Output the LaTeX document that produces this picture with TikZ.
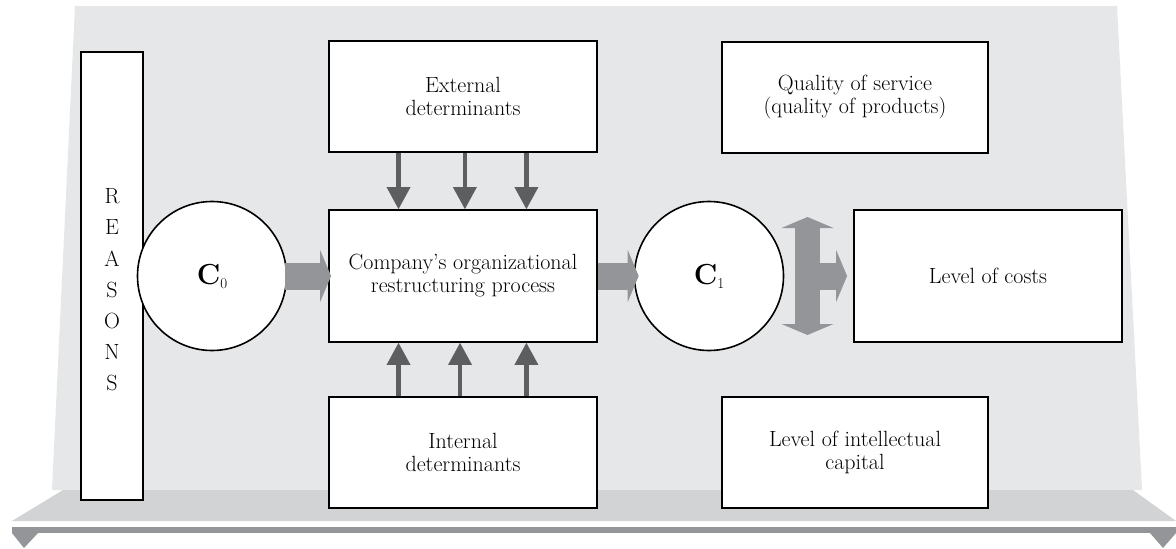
\documentclass[tikz,border=0pt]{standalone}
\usetikzlibrary{arrows.meta,calc}
\definecolor{panelc}{HTML}{E6E7E8}
\definecolor{floorc}{HTML}{D1D3D4}
\definecolor{barc}{HTML}{939598}
\definecolor{bigc}{HTML}{939598}
\definecolor{darkc}{HTML}{5D5E60}
\begin{document}
\begin{tikzpicture}[x=1pt,y=-1pt,
  box/.style={draw=black,line width=1.8pt,fill=white,inner sep=0pt,align=center,
    font=\fontsize{22}{23}\selectfont},
  roundc/.style={circle,draw=black,line width=1.6pt,fill=white,inner sep=0pt,
    minimum size=149pt},
  bigarrow/.style={draw=bigc,line width=27pt,-{Triangle[width=52pt,length=11pt,line width=0pt]}},
  dblarrow/.style={draw=bigc,line width=25pt,{Triangle[width=52pt,length=11pt,line width=0pt]}-{Triangle[width=52pt,length=11pt,line width=0pt]}},
  smallarrow/.style={draw=darkc,line width=4.5pt,-{Triangle[width=24pt,length=22pt,line width=0pt]}}
]
\useasboundingbox (0,0) rectangle (1176,549);
\fill[white] (0,0) rectangle (1176,549);
% back panel and floor
\fill[panelc] (75,6) -- (1117,6) -- (1142,490) -- (52,490) -- cycle;
\fill[floorc] (63,490) -- (1133,490) -- (1176,521) -- (12,521) -- cycle;
\fill[barc] (12,527) rectangle (1176,533);
\fill[barc] (12,533) -- (38,533) -- (24,548) -- cycle;
\fill[barc] (1150,533) -- (1176,533) -- (1163,548) -- cycle;

% boxes
\node[box,minimum width=62pt,minimum height=448pt] (reasons) at (112,276) {};
\node[align=center,inner sep=0pt,font=\fontsize{22}{31.2}\selectfont] (reasonstxt) at (112,290)
  {R\\E\\A\\S\\O\\N\\S};
\node[box,minimum width=268pt,minimum height=111pt] (ext) at (463,96.5) {External\\determinants};
\node[box,minimum width=268pt,minimum height=132pt] (main) at (463,276) {Company's organizational\\restructuring process};
\node[box,minimum width=268pt,minimum height=111pt] (int) at (463,452.5) {Internal\\determinants};
\node[box,minimum width=266pt,minimum height=111pt] (qual) at (855,97.5) {Quality of service\\(quality of products)};
\node[box,minimum width=268pt,minimum height=132pt] (costs) at (988,276) {Level of costs};
\node[box,minimum width=266pt,minimum height=111pt] (intel) at (855,452.5) {Level of intellectual\\capital};

% circles
\node[roundc] (c0) at (212,276) {{\fontsize{29}{30}\selectfont\bfseries C}\raisebox{-4pt}{\fontsize{15}{15}\selectfont 0}};
\node[roundc] (c1) at (709,276) {{\fontsize{29}{30}\selectfont\bfseries C}\raisebox{-4pt}{\fontsize{15}{15}\selectfont 1}};

% big grey arrows
\draw[bigarrow,shorten <=-2pt,shorten >=-3pt] (c0.east) -- (main.west);
\draw[bigarrow,shorten >=-5pt] (main.east) -- (c1.west);
\coordinate (dtop) at (807.5,217);
\coordinate (dbot) at (807.5,335);
\coordinate (dmid) at (807.5,276);
\draw[dblarrow] (dtop) -- (dbot);
\draw[bigarrow,shorten >=6pt] (dmid) -- (costs.west);

% small dark arrows
\foreach \f in {0.261,0.507,0.735}
  \draw[smallarrow] ($(ext.south west)!\f!(ext.south east)$) -- ($(main.north west)!\f!(main.north east)$);
\foreach \f in {0.261,0.489,0.735}
  \draw[smallarrow] ($(int.north west)!\f!(int.north east)$) -- ($(main.south west)!\f!(main.south east)$);
\end{tikzpicture}
\end{document}
